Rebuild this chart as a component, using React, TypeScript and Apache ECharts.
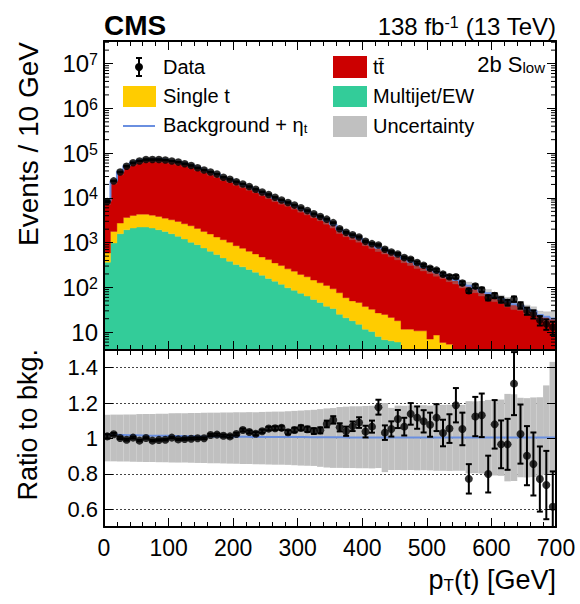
import React, { useEffect, useRef } from 'react';
import * as echarts from 'echarts';

// ---------------- data ----------------
const BIN_LOW = [
  0, 10, 20, 30, 40, 50, 60, 70, 80, 90,
  100, 110, 120, 130, 140, 150, 160, 170, 180, 190,
  200, 210, 220, 230, 240, 250, 260, 270, 280, 290,
  300, 310, 320, 330, 340, 350, 360, 370, 380, 390,
  400, 410, 420, 430, 440, 450, 460, 470, 480, 490,
  500, 510, 520, 530, 540, 550, 560, 570, 580, 590,
  600, 610, 620, 630, 640, 650, 660, 670, 680, 690,
];
const BIN_WIDTH = 10;

const DATA_COUNTS = [
  8300, 24000, 38000, 51000, 61000, 67000, 72000, 72000, 72000, 70000,
  67000, 63000, 58000, 53000, 47000, 42000, 38000, 34000, 29000, 26000,
  23000, 20500, 17900, 15600, 13600, 11900, 10300, 9000, 7900, 6900,
  6000, 5200, 4400, 3850, 3350, 2800, 2050, 1700, 1500, 1340,
  1070, 950, 890, 710, 620, 560, 464, 427, 360, 313,
  269, 243, 198, 173, 173, 125, 84, 107, 89, 59,
  66, 53, 46, 55, 40, 30, 25.5, 18.5, 15.3, 12.9,
];

const TTBAR = [
  7610, 21600, 35200, 47700, 56700, 63500, 67500, 68800, 68800, 67000,
  63500, 60300, 55600, 50600, 44900, 40200, 35700, 32000, 27300, 24700,
  21500, 18850, 16650, 14650, 12600, 10900, 9350, 8200, 7340, 6370,
  5465, 4770, 4075, 3550, 2990, 2440, 1855, 1570, 1350, 1185,
  992, 858, 735, 662, 567, 487, 423, 363, 311, 274,
  243, 208, 186, 159, 146, 119, 109, 95, 80, 74,
  61, 55, 48, 42, 39, 33, 30, 24, 22, 20,
];

const SINGLE_T = [
  223, 804, 1150, 1711, 1928, 2106, 2106, 2003, 1903, 1747,
  1658, 1594, 1437, 1371, 1178, 1025, 917, 796, 711, 632,
  533, 460, 390, 341, 292, 260, 215, 191, 162, 145,
  121, 109, 92, 81, 73, 59, 51, 38, 32, 31,
  26, 22, 19, 18, 15, 12, 11.7, 11.7, 10.7, 10.7,
  7, 8.6, 5.9, 5.4, 0, 0, 0, 0, 0, 0,
  0, 0, 0, 0, 0, 0, 0, 0, 0, 0,
];

const MULTIJET = [
  366, 982, 1585, 1945, 2118, 2229, 2229, 2118, 1945, 1786,
  1585, 1384, 1206, 1016, 903, 761, 642, 541, 456, 385,
  324, 288, 251, 219, 188, 159, 138, 117, 98, 86,
  74, 64, 54, 46, 38, 34, 25, 21, 18, 15,
  11.7, 10.4, 8, 6.8, 6.4, 6.0, 0, 0, 0, 0,
  0, 0, 0, 0, 0, 0, 0, 0, 0, 0,
  0, 0, 0, 0, 0, 0, 0, 0, 0, 0,
];

// data / background
const RATIO = [
  1.012, 1.024, 1.003, 0.993, 1.005, 0.988, 1.003, 0.988, 0.992, 0.993,
  1.005, 0.995, 0.997, 0.999, 1.001, 1.001, 1.02, 1.022, 1.016, 1.012,
  1.025, 1.048, 1.037, 1.027, 1.041, 1.056, 1.058, 1.06, 1.035, 1.048,
  1.06, 1.052, 1.042, 1.046, 1.082, 1.105, 1.063, 1.041, 1.069, 1.09,
  1.039, 1.067, 1.177, 1.033, 1.054, 1.11, 1.067, 1.139, 1.118, 1.097,
  1.078, 1.118, 1.031, 1.056, 1.188, 1.054, 0.772, 1.124, 1.131, 0.799,
  1.08, 0.967, 0.967, 1.31, 1.025, 0.903, 0.856, 0.771, 0.737, 0.614,
];

// half-length of the data error bar in the ratio panel
const RATIO_ERR = [
  0.012, 0.007, 0.006, 0.005, 0.005, 0.004, 0.004, 0.004, 0.004, 0.004,
  0.004, 0.004, 0.005, 0.005, 0.005, 0.005, 0.006, 0.006, 0.006, 0.007,
  0.007, 0.008, 0.008, 0.009, 0.009, 0.01, 0.011, 0.012, 0.012, 0.013,
  0.014, 0.015, 0.016, 0.017, 0.019, 0.021, 0.023, 0.026, 0.027, 0.03,
  0.033, 0.034, 0.042, 0.041, 0.043, 0.051, 0.05, 0.061, 0.063, 0.063,
  0.068, 0.076, 0.075, 0.081, 0.097, 0.092, 0.083, 0.111, 0.123, 0.104,
  0.137, 0.135, 0.144, 0.178, 0.167, 0.167, 0.178, 0.184, 0.193, 0.2,
];

// (background + eta_t) / background
const ETA_RATIO = [
  1.022, 1.021, 1.02, 1.019, 1.018, 1.017, 1.016, 1.016, 1.015, 1.015,
  1.014, 1.014, 1.013, 1.013, 1.012, 1.012, 1.011, 1.011, 1.011, 1.01,
  1.01, 1.01, 1.009, 1.009, 1.009, 1.009, 1.008, 1.008, 1.008, 1.008,
  1.008, 1.007, 1.007, 1.007, 1.007, 1.007, 1.007, 1.006, 1.006, 1.006,
  1.006, 1.006, 1.006, 1.006, 1.005, 1.005, 1.005, 1.005, 1.005, 1.005,
  1.005, 1.005, 1.005, 1.005, 1.005, 1.005, 1.005, 1.005, 1.005, 1.005,
  1.005, 1.005, 1.005, 1.005, 1.005, 1.005, 1.005, 1.005, 1.005, 1.005,
];

// relative uncertainty band edges
const UNC_UP = [
  1.134, 1.135, 1.135, 1.136, 1.136, 1.138, 1.139, 1.139, 1.14, 1.14,
  1.142, 1.143, 1.143, 1.144, 1.144, 1.145, 1.146, 1.146, 1.147, 1.147,
  1.148, 1.148, 1.149, 1.149, 1.15, 1.151, 1.152, 1.152, 1.154, 1.156,
  1.158, 1.16, 1.162, 1.166, 1.17, 1.172, 1.178, 1.18, 1.182, 1.182,
  1.184, 1.185, 1.19, 1.2, 1.173, 1.186, 1.185, 1.187, 1.186, 1.188,
  1.186, 1.19, 1.19, 1.191, 1.19, 1.19, 1.211, 1.21, 1.212, 1.218,
  1.216, 1.22, 1.252, 1.25, 1.23, 1.228, 1.232, 1.233, 1.3, 1.433,
];
const UNC_DOWN = [
  0.871, 0.871, 0.87, 0.87, 0.869, 0.868, 0.867, 0.867, 0.866, 0.866,
  0.865, 0.864, 0.864, 0.863, 0.862, 0.861, 0.86, 0.86, 0.859, 0.858,
  0.857, 0.856, 0.856, 0.855, 0.854, 0.853, 0.852, 0.852, 0.851, 0.849,
  0.847, 0.846, 0.845, 0.84, 0.836, 0.834, 0.834, 0.833, 0.833, 0.832,
  0.832, 0.831, 0.833, 0.81, 0.822, 0.822, 0.821, 0.822, 0.82, 0.821,
  0.82, 0.818, 0.818, 0.817, 0.818, 0.818, 0.803, 0.804, 0.802, 0.79,
  0.791, 0.789, 0.758, 0.76, 0.781, 0.78, 0.782, 0.785, 0.796, 0.796,
];

// axis ranges
const X_MIN = 0;
const X_MAX = 700;
const X_STEP = 100;
const Y_MIN = 4;
const Y_MAX = 3.2e7;
const R_MIN = 0.5;
const R_MAX = 1.5;
const LOG_DECADES = [1, 10, 100, 1000, 1e4, 1e5, 1e6, 1e7];
const LOG_MINOR_MULT = [2, 3, 4, 5, 6, 7, 8, 9];

// ---------------- style ----------------
const FONT = "'Liberation Sans', Arial, Helvetica, sans-serif";
const C_TT = '#cc0000';
const C_ST = '#ffcc00';
const C_MJ = '#33cc99';
const C_UNC = '#c0c0c0';
const C_BLUE = '#6a8fe0';

const G_TOP = { left: 104, top: 41, width: 452, height: 309 };
const G_RAT = { left: 104, top: 350, width: 452, height: 177 };

function yClamp(v: number, min: number, max: number, cs: any, api: any, x: number) {
  if (!(v > min)) return cs.y + cs.height;
  if (v >= max) return cs.y;
  return api.coord([x, v])[1];
}

// one step-shaped polygon per stacked component (no seams between bins);
// drawn once, from the first item, through the axes' own scales
function stackRender(items: number[][], fill: string, min: number, max: number) {
  return (params: any, api: any) => {
    if (params.dataIndex !== 0) return null;
    const cs = params.coordSys;
    const top: number[][] = [];
    const bot: number[][] = [];
    items.forEach(([lo, hi, b, t]) => {
      const ref = Math.min(Math.max(t, min * 1.0001), max);
      const x0 = api.coord([lo, ref])[0];
      const x1 = api.coord([hi, ref])[0];
      const yt = yClamp(t, min, max, cs, api, lo);
      const yb = yClamp(b, min, max, cs, api, lo);
      top.push([x0, yt], [x1, yt]);
      bot.push([x0, yb], [x1, yb]);
    });
    const points = top.concat(bot.reverse());
    return { type: 'polygon', shape: { points }, style: { fill, stroke: fill, lineWidth: 0.4 } };
  };
}

function histRender(fill: string, min: number, max: number) {
  return (params: any, api: any) => {
    const lo = api.value(0);
    const hi = api.value(1);
    const b = api.value(2);
    const t = api.value(3);
    if (!(t > min) || !(t > b)) return null;
    const cs = params.coordSys;
    const yb = yClamp(b, min, max, cs, api, lo);
    const yt = yClamp(t, min, max, cs, api, lo);
    const ref = Math.min(Math.max(t, min * 1.0001), max);
    const x0 = api.coord([lo, ref])[0];
    const x1 = api.coord([hi, ref])[0];
    return {
      type: 'rect',
      shape: { x: x0, y: yt, width: x1 - x0, height: yb - yt },
      style: { fill },
    };
  };
}

function errRender(params: any, api: any) {
  const x = api.value(0);
  const lo = api.value(2);
  const hi = api.value(3);
  const p1 = api.coord([x, hi]);
  const p2 = api.coord([x, lo]);
  const cap = 3;
  const st = { stroke: '#000', lineWidth: 2 };
  return {
    type: 'group',
    children: [
      { type: 'line', shape: { x1: p1[0], y1: p1[1], x2: p2[0], y2: p2[1] }, style: st },
      { type: 'line', shape: { x1: p1[0] - cap, y1: p1[1], x2: p1[0] + cap, y2: p1[1] }, style: st },
      { type: 'line', shape: { x1: p2[0] - cap, y1: p2[1], x2: p2[0] + cap, y2: p2[1] }, style: st },
    ],
  };
}

function minorTickRender(params: any, api: any) {
  const cs = params.coordSys;
  const y = api.coord([0, api.value(1)])[1];
  const st = { stroke: '#000', lineWidth: 1 };
  return {
    type: 'group',
    children: [
      { type: 'line', shape: { x1: cs.x, y1: y, x2: cs.x + 5, y2: y }, style: st },
      { type: 'line', shape: { x1: cs.x + cs.width - 5, y1: y, x2: cs.x + cs.width, y2: y }, style: st },
    ],
  };
}

function buildOption() {
  const n = BIN_LOW.length;
  const center = BIN_LOW.map((lo) => lo + BIN_WIDTH / 2);
  const bkg = BIN_LOW.map((_, i) => TTBAR[i] + SINGLE_T[i] + MULTIJET[i]);

  const mjData: number[][] = [];
  const stData: number[][] = [];
  const ttData: number[][] = [];
  const uncTop: number[][] = [];
  const uncRat: number[][] = [];
  const blueTop: number[][] = [];
  const blueRat: number[][] = [];
  const errTop: number[][] = [];
  const errRat: number[][] = [];
  const ptsTop: number[][] = [];
  const ptsRat: number[][] = [];
  for (let i = 0; i < n; i++) {
    const lo = BIN_LOW[i];
    const hi = lo + BIN_WIDTH;
    const m = MULTIJET[i];
    const s = SINGLE_T[i];
    const t = TTBAR[i];
    if (m > 0) mjData.push([lo, hi, 0, m]);
    if (s > 0) stData.push([lo, hi, m, m + s]);
    ttData.push([lo, hi, m + s, m + s + t]);
    uncTop.push([lo, hi, bkg[i] * UNC_DOWN[i], bkg[i] * UNC_UP[i]]);
    uncRat.push([lo, hi, UNC_DOWN[i], UNC_UP[i]]);
    blueTop.push([lo, bkg[i] * ETA_RATIO[i]], [hi, bkg[i] * ETA_RATIO[i]]);
    blueRat.push([lo, ETA_RATIO[i]], [hi, ETA_RATIO[i]]);
    const d = DATA_COUNTS[i];
    const rel = RATIO_ERR[i] / RATIO[i];
    errTop.push([center[i], d, d * (1 - rel), d * (1 + rel)]);
    errRat.push([center[i], RATIO[i], RATIO[i] - RATIO_ERR[i], RATIO[i] + RATIO_ERR[i]]);
    ptsTop.push([center[i], d]);
    ptsRat.push([center[i], RATIO[i]]);
  }
  const minorTicks: number[][] = [];
  LOG_DECADES.forEach((dec) =>
    LOG_MINOR_MULT.forEach((k) => {
      const v = k * dec;
      if (v > Y_MIN && v < Y_MAX) minorTicks.push([0, v]);
    })
  );

  const axisLine = { show: true, onZero: false, lineStyle: { color: '#000', width: 2 } };
  const tick = { show: true, inside: true, length: 9, lineStyle: { color: '#000', width: 1 } };
  const minor = { show: true, splitNumber: 5, length: 5, lineStyle: { color: '#000', width: 1 } };

  const xBase = (grid: number, pos: 'top' | 'bottom', labels: boolean) => ({
    type: 'value',
    gridIndex: grid,
    position: pos,
    min: X_MIN,
    max: X_MAX,
    interval: X_STEP,
    z: 10,
    axisLine,
    axisTick: tick,
    minorTick: minor,
    splitLine: { show: false },
    minorSplitLine: { show: false },
    axisLabel: labels
      ? { show: true, margin: 9, fontSize: 23, fontFamily: FONT, color: '#000' }
      : { show: false },
  });

  const logLabel = {
    show: true,
    margin: 6,
    showMinLabel: false,
    showMaxLabel: false,
    color: '#000',
    fontFamily: FONT,
    formatter: (v: number) => {
      const e = Math.round(Math.log10(v));
      return e === 1 ? '{b|10}' : `{b|10}{s|${e}}`;
    },
    rich: {
      b: { fontSize: 24, lineHeight: 24, fontFamily: FONT, color: '#000', verticalAlign: 'middle' },
      s: { fontSize: 16, lineHeight: 16, fontFamily: FONT, color: '#000', verticalAlign: 'top', padding: [0, 0, 14, 0] },
    },
  };

  const yLog = (pos: 'left' | 'right', labels: boolean) => ({
    type: 'log',
    logBase: 10,
    gridIndex: 0,
    position: pos,
    min: Y_MIN,
    max: Y_MAX,
    z: 10,
    axisLine,
    axisTick: tick,
    minorTick: { show: false },
    splitLine: { show: false },
    axisLabel: labels ? logLabel : { show: false },
  });

  const yRat = (pos: 'left' | 'right', labels: boolean) => ({
    type: 'value',
    gridIndex: 1,
    position: pos,
    min: R_MIN,
    max: R_MAX,
    splitNumber: 5,
    z: 10,
    axisLine,
    axisTick: tick,
    splitLine: { show: false },
    axisLabel: labels
      ? {
          show: true,
          margin: 6,
          showMinLabel: false,
          showMaxLabel: false,
          fontSize: 22,
          fontFamily: FONT,
          color: '#000',
          formatter: (v: number) => String(Math.round(v * 10) / 10),
        }
      : { show: false },
  });

  const txt = (x: number, y: number, text: string, size: number, align = 'left', extra: any = {}) => ({
    type: 'text',
    x,
    y,
    z: 20,
    style: {
      text,
      fill: '#000',
      fontSize: size,
      fontFamily: FONT,
      align,
      verticalAlign: 'middle',
      ...extra,
    },
  });

  const graphic: any[] = [
    txt(104, 25, 'CMS', 28, 'left', { fontWeight: 'bold' }),
    txt(556, 26, '{a|138 fb}{s|-1}{a| (13 TeV)}', 24, 'right', {
      rich: {
        a: { fontSize: 24, lineHeight: 24, fontFamily: FONT, fill: '#000' },
        s: { fontSize: 16, lineHeight: 16, fontFamily: FONT, fill: '#000', verticalAlign: 'top', padding: [0, 0, 10, 0] },
      },
    }),
    txt(545, 64, '{a|2b S}{b|low}', 22, 'right', {
      rich: {
        a: { fontSize: 22, lineHeight: 22, fontFamily: FONT, fill: '#000' },
        b: { fontSize: 15, lineHeight: 15, fontFamily: FONT, fill: '#000', verticalAlign: 'bottom', padding: [17, 0, 0, 0] },
      },
    }),
    txt(556, 580, '{a|p}{b|T}{a|(t) [GeV]}', 27, 'right', {
      rich: {
        a: { fontSize: 27, lineHeight: 27, fontFamily: FONT, fill: '#000' },
        b: { fontSize: 17, lineHeight: 17, fontFamily: FONT, fill: '#000', verticalAlign: 'bottom', padding: [17, 0, 0, 0] },
      },
    }),
    {
      type: 'text',
      x: 28,
      y: 42,
      rotation: Math.PI / 2,
      z: 20,
      style: { text: 'Events / 10 GeV', fill: '#000', fontSize: 28, fontFamily: FONT, align: 'right', verticalAlign: 'middle' },
    },
    {
      type: 'text',
      x: 28,
      y: 349,
      rotation: Math.PI / 2,
      z: 20,
      style: { text: 'Ratio to bkg.', fill: '#000', fontSize: 27, fontFamily: FONT, align: 'right', verticalAlign: 'middle' },
    },
    // legend: left column
    { type: 'line', z: 20, shape: { x1: 139, y1: 58, x2: 139, y2: 76 }, style: { stroke: '#000', lineWidth: 2 } },
    { type: 'line', z: 20, shape: { x1: 136, y1: 58, x2: 142, y2: 58 }, style: { stroke: '#000', lineWidth: 2 } },
    { type: 'line', z: 20, shape: { x1: 136, y1: 76, x2: 142, y2: 76 }, style: { stroke: '#000', lineWidth: 2 } },
    { type: 'circle', z: 20, shape: { cx: 139, cy: 67, r: 4 }, style: { fill: '#000' } },
    txt(163, 67, 'Data', 20),
    { type: 'rect', z: 20, shape: { x: 123, y: 86, width: 33, height: 21 }, style: { fill: C_ST } },
    txt(163, 96, 'Single t', 20),
    { type: 'line', z: 20, shape: { x1: 123, y1: 126, x2: 155, y2: 126 }, style: { stroke: C_BLUE, lineWidth: 2 } },
    txt(163, 125, '{a|Background + η}{b|t}', 20, 'left', {
      rich: {
        a: { fontSize: 20, lineHeight: 20, fontFamily: FONT, fill: '#000' },
        b: { fontSize: 13, lineHeight: 13, fontFamily: FONT, fill: '#000', verticalAlign: 'bottom', padding: [13, 0, 0, 0] },
      },
    }),
    // legend: right column
    { type: 'rect', z: 20, shape: { x: 333, y: 56, width: 34, height: 22 }, style: { fill: C_TT } },
    txt(373, 67, 'tt\u0304', 20),
    { type: 'rect', z: 20, shape: { x: 333, y: 86, width: 34, height: 21 }, style: { fill: C_MJ } },
    txt(373, 96, 'Multijet/EW', 20),
    { type: 'rect', z: 20, shape: { x: 333, y: 116, width: 34, height: 21 }, style: { fill: C_UNC } },
    txt(373, 126, 'Uncertainty', 20),
  ];

  const custom = (name: string, x: number, y: number, data: number[][], renderItem: any, z = 2, encode: any = { x: [0, 1], y: 3 }) => ({
    type: 'custom',
    name,
    xAxisIndex: x,
    yAxisIndex: y,
    data,
    renderItem,
    encode,
    clip: true,
    z,
    silent: true,
  });

  return {
    animation: false,
    backgroundColor: '#fff',
    textStyle: { fontFamily: FONT },
    grid: [
      { ...G_TOP, containLabel: false, outerBoundsMode: 'none' },
      { ...G_RAT, containLabel: false, outerBoundsMode: 'none' },
    ],
    xAxis: [xBase(0, 'bottom', false), xBase(0, 'top', false), xBase(1, 'bottom', true), xBase(1, 'top', false)],
    yAxis: [
      yLog('left', true),
      yLog('right', false),
      yRat('left', true),
      yRat('right', false),
      {
        type: 'value',
        gridIndex: 1,
        position: 'left',
        min: R_MIN,
        max: R_MAX,
        splitNumber: 5,
        z: 0,
        axisLine: { show: false },
        axisTick: { show: false },
        axisLabel: { show: false },
        splitLine: { show: true, lineStyle: { color: '#444', width: 1, type: [2, 2] } },
      },
    ],
    graphic,
    series: [
      custom('Multijet/EW', 0, 0, mjData, stackRender(mjData, C_MJ, Y_MIN, Y_MAX), 2),
      custom('Single t', 0, 0, stData, stackRender(stData, C_ST, Y_MIN, Y_MAX), 2),
      custom('tt\u0304', 0, 0, ttData, stackRender(ttData, C_TT, Y_MIN, Y_MAX), 2),
      custom('Uncertainty', 0, 0, uncTop, stackRender(uncTop, 'rgba(140,140,140,0.45)', Y_MIN, Y_MAX), 3),
      {
        type: 'line',
        name: 'Background + η_t',
        xAxisIndex: 0,
        yAxisIndex: 0,
        data: blueTop,
        symbol: 'none',
        lineStyle: { color: C_BLUE, width: 2 },
        z: 4,
        silent: true,
      },
      custom('Data errors', 0, 0, errTop, errRender, 5, { x: 0, y: 1 }),
      {
        type: 'scatter',
        name: 'Data',
        xAxisIndex: 0,
        yAxisIndex: 0,
        data: ptsTop,
        symbol: 'circle',
        symbolSize: 7.5,
        itemStyle: { color: '#000' },
        z: 6,
        silent: true,
      },
      custom('log minor ticks', 0, 0, minorTicks, minorTickRender, 12, { x: 0, y: 1 }),
      // ratio panel
      custom('Uncertainty ratio', 2, 2, uncRat, histRender(C_UNC, R_MIN, R_MAX), 2),
      {
        type: 'line',
        name: 'Background + η_t ratio',
        xAxisIndex: 2,
        yAxisIndex: 2,
        data: blueRat,
        symbol: 'none',
        lineStyle: { color: C_BLUE, width: 2 },
        z: 4,
        silent: true,
      },
      custom('Data/bkg errors', 2, 2, errRat, errRender, 5, { x: 0, y: 1 }),
      {
        type: 'scatter',
        name: 'Data/bkg',
        xAxisIndex: 2,
        yAxisIndex: 2,
        data: ptsRat,
        symbol: 'circle',
        symbolSize: 8,
        itemStyle: { color: '#000' },
        z: 6,
        silent: true,
      },
    ],
  };
}

export default function App() {
  const ref = useRef<HTMLDivElement>(null);
  useEffect(() => {
    document.body.style.margin = '0';
    const el = ref.current;
    if (!el) return;
    const chart = echarts.init(el, null, { renderer: 'svg', width: 580, height: 604 });
    chart.setOption(buildOption() as any);
    return () => chart.dispose();
  }, []);
  return <div ref={ref} style={{ width: 580, height: 604, position: 'absolute', left: 0, top: 0 }} />;
}
